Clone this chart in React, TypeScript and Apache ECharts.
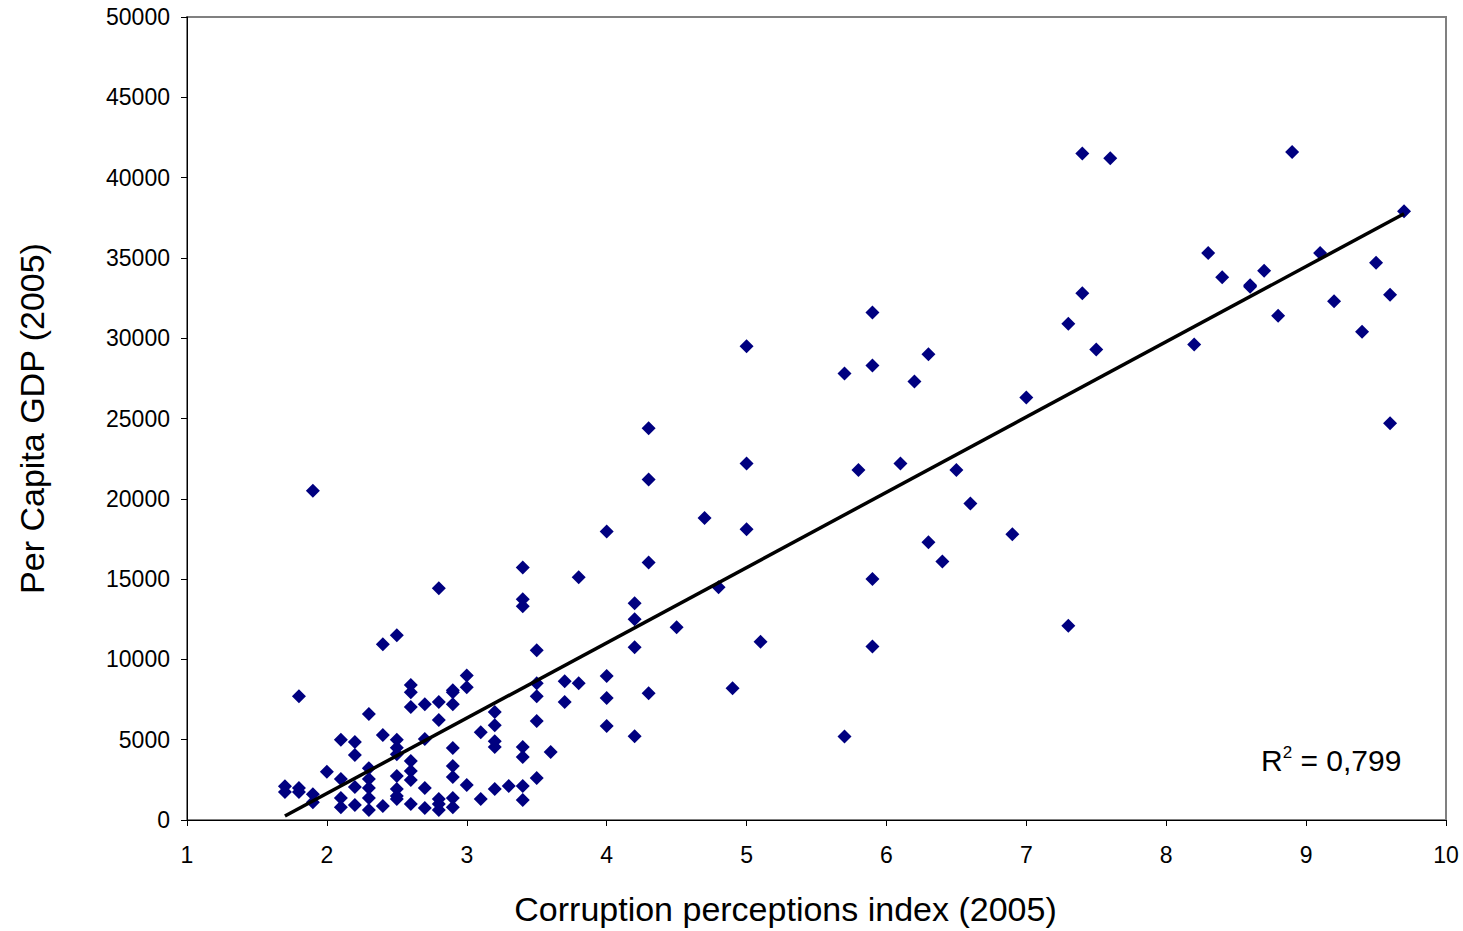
import React, { useEffect, useRef } from "react";
import * as echarts from "echarts";

const cpi: number[] = [
  1.7, 1.7,
  1.8, 1.8, 1.8,
  1.9, 1.9, 1.9,
  2.0,
  2.1, 2.1, 2.1, 2.1,
  2.2, 2.2, 2.2, 2.2,
  2.3, 2.3, 2.3, 2.3, 2.3, 2.3,
  2.4, 2.4, 2.4,
  2.5, 2.5, 2.5, 2.5, 2.5, 2.5, 2.5, 2.5,
  2.6, 2.6, 2.6, 2.6, 2.6, 2.6, 2.6,
  2.7, 2.7, 2.7, 2.7,
  2.8, 2.8, 2.8, 2.8, 2.8, 2.8,
  2.9, 2.9, 2.9, 2.9, 2.9, 2.9, 2.9, 2.9,
  3.0, 3.0, 3.0,
  3.1, 3.1,
  3.2, 3.2, 3.2, 3.2, 3.2,
  3.3,
  3.4, 3.4, 3.4, 3.4, 3.4, 3.4, 3.4,
  3.5, 3.5, 3.5, 3.5, 3.5,
  3.6,
  3.7, 3.7,
  3.8, 3.8,
  4.0, 4.0, 4.0, 4.0,
  4.2, 4.2, 4.2, 4.2,
  4.3, 4.3, 4.3, 4.3,
  4.5,
  4.7,
  4.8,
  4.9,
  5.0, 5.0, 5.0,
  5.1,
  5.7, 5.7,
  5.8,
  5.9, 5.9, 5.9, 5.9,
  6.1,
  6.2,
  6.3, 6.3,
  6.4,
  6.5,
  6.6,
  6.9,
  7.0,
  7.3, 7.3,
  7.4, 7.4,
  7.5,
  7.6,
  8.2,
  8.3,
  8.4,
  8.6, 8.6,
  8.7,
  8.8,
  8.9,
  9.1,
  9.2,
  9.4,
  9.5,
  9.6, 9.6,
  9.7,
];

const gdp: number[] = [
  2100, 1750,
  7700, 2000, 1750,
  20500, 1600, 1100,
  3000,
  5000, 2550, 1370, 800,
  4850, 4040, 2050, 930,
  6600, 3230, 2550, 2000, 1370, 620,
  10950, 5290, 870,
  11500, 5000, 4500, 4100, 2740, 1930, 1500, 1300,
  8400, 7960, 7030, 3670, 3050, 2490, 1000,
  7200, 5040, 2000, 750,
  14430, 7340, 6220, 1300, 1000, 620,
  8080, 7960, 7200, 4480, 3360, 2670, 1370, 800,
  9000, 8270, 2180,
  5470, 1300,
  6720, 5900, 4900, 4540, 1930,
  2110,
  15730, 13740, 13310, 4540, 3920, 2110, 1240,
  10570, 8520, 7710, 6160, 2610,
  4230,
  8640, 7340,
  15110, 8520,
  17970, 8960, 7590, 5850,
  13500, 12500, 10760, 5220,
  24400, 21200, 16040, 7900,
  12000,
  18800,
  14500,
  8200,
  29500, 22200, 18100,
  11100,
  27800, 5200,
  21800,
  31600, 28300, 15000, 10800,
  22200,
  27300,
  29000, 17300,
  16100,
  21800,
  19700,
  17800,
  26300,
  30900, 12100,
  41500, 32800,
  29300,
  41200,
  29600,
  35300,
  33800,
  33300, 33200,
  34200,
  31400,
  41600,
  35300,
  32300,
  30400,
  34700,
  32700, 24700,
  37900,
];

const trendX: number[] = [1.7, 9.7];
const trendY: number[] = [250, 37750];

const xAxisTitle = "Corruption perceptions index (2005)";
const yAxisTitle = "Per Capita GDP (2005)";

export default function App() {
  const ref = useRef<HTMLDivElement>(null);
  useEffect(() => {
    if (!ref.current) return;
    const chart = echarts.init(ref.current, null, { renderer: "svg" });
    const points = cpi.map((x, i) => [x, gdp[i]]);
    const trend = trendX.map((x, i) => [x, trendY[i]]);
    const font = "Arial, 'Liberation Sans', sans-serif";
    chart.setOption({
      animation: false,
      backgroundColor: "#ffffff",
      grid: {
        left: 187,
        right: 17,
        top: 17,
        bottom: 110,
        show: true,
        borderColor: "#808080",
        borderWidth: 2,
        backgroundColor: "transparent",
      },
      xAxis: {
        type: "value",
        min: 1,
        max: 10,
        interval: 1,
        name: xAxisTitle,
        nameLocation: "middle",
        nameGap: 72,
        nameTextStyle: { fontSize: 34, color: "#000", fontFamily: font, padding: [0, 62, 0, 0] },
        axisLine: { show: true, lineStyle: { color: "#000", width: 1 } },
        axisTick: { show: true, length: 6, lineStyle: { color: "#000" } },
        axisLabel: { fontSize: 23, color: "#000", margin: 23, fontFamily: font },
        splitLine: { show: false },
      },
      yAxis: {
        type: "value",
        min: 0,
        max: 50000,
        interval: 5000,
        name: yAxisTitle,
        nameLocation: "middle",
        nameGap: 138,
        nameRotate: 90,
        nameTextStyle: { fontSize: 34, color: "#000", fontFamily: font },
        axisLine: { show: true, lineStyle: { color: "#000", width: 1 } },
        axisTick: { show: true, length: 6, lineStyle: { color: "#000" } },
        axisLabel: {
          fontSize: 23,
          color: "#000",
          margin: 17,
          fontFamily: font,
          formatter: (v: number) => String(v),
        },
        splitLine: { show: false },
      },
      series: [
        {
          type: "scatter",
          data: points,
          symbol: "diamond",
          symbolSize: 14,
          itemStyle: { color: "#000080", opacity: 1 },
          z: 2,
        },
        {
          type: "line",
          data: trend,
          symbol: "none",
          lineStyle: { color: "#000", width: 3.5 },
          z: 3,
        },
      ],
      graphic: [
        {
          type: "text",
          left: 1261,
          top: 744,
          style: {
            text: "R{sup|2} = 0,799",
            fill: "#000",
            font: `30px ${font}`,
            rich: {
              sup: { fontSize: 17, verticalAlign: "top", padding: [0, 0, 16, 0], fontFamily: font },
            },
          },
        },
      ],
    });
    return () => chart.dispose();
  }, []);
  return (
    <div
      ref={ref}
      style={{ position: "fixed", left: 0, top: 0, width: 1463, height: 931 }}
    />
  );
}
